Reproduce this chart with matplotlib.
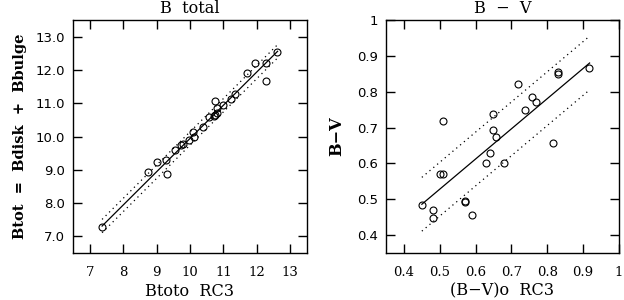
import matplotlib
matplotlib.use("Agg")
import matplotlib.pyplot as plt
import numpy as np

# ---- Left panel data: B total ----
btot_rc3 = [7.37, 8.74, 9.02, 9.28, 9.32, 9.56, 9.74, 9.78, 9.96, 10.08, 10.12,
            10.38, 10.56, 10.72, 10.76, 10.80, 10.76, 10.82, 10.98, 11.22, 11.36,
            11.70, 11.94, 12.26, 12.26, 12.60]
btot_fit = [7.28, 8.92, 9.24, 9.28, 8.88, 9.58, 9.74, 9.76, 9.88, 10.14, 10.00,
            10.28, 10.60, 10.62, 11.08, 10.86, 10.64, 10.70, 10.94, 11.12, 11.28,
            11.90, 12.20, 12.20, 11.66, 12.54]
b_line_x = [7.37, 12.62]
b_slope, b_icpt, b_band = 1.0, -0.06, 0.2

# ---- Right panel data: B - V ----
bv_rc3 = [0.450, 0.480, 0.480, 0.500, 0.509, 0.509, 0.569, 0.569, 0.590, 0.629,
          0.639, 0.648, 0.648, 0.658, 0.679, 0.719, 0.738, 0.758, 0.768, 0.817,
          0.829, 0.829, 0.917]
bv_fit = [0.484, 0.471, 0.447, 0.569, 0.569, 0.717, 0.496, 0.492, 0.455, 0.600,
          0.628, 0.737, 0.694, 0.674, 0.600, 0.822, 0.748, 0.784, 0.770, 0.656,
          0.856, 0.850, 0.867]
bv_line_x = [0.45, 0.918]
bv_slope, bv_icpt, bv_band = 0.842, 0.486 - 0.842 * 0.45, 0.075

left_xticks = [7, 8, 9, 10, 11, 12, 13]
left_yticks = [7.0, 8.0, 9.0, 10.0, 11.0, 12.0, 13.0]
right_ticks = [0.4, 0.5, 0.6, 0.7, 0.8, 0.9, 1.0]
right_ticklabels = ["0.4", "0.5", "0.6", "0.7", "0.8", "0.9", "1"]

fig = plt.figure(figsize=(6.24, 3.0), dpi=100)
W, H = 624, 300
axL = fig.add_axes([73 / W, (H - 253) / H, 234 / W, 233 / H])
axR = fig.add_axes([386 / W, (H - 253) / H, 233 / W, 233 / H])

serif = "DejaVu Serif"
sans = "DejaVu Sans"
fs = 9.5
lfs = 11.6

def style(ax):
    for s in ax.spines.values():
        s.set_linewidth(1.0)
    ax.tick_params(direction="in", length=6.5, width=1.0, top=True, right=True,
                   labelsize=fs)
    ax.tick_params(axis="x", pad=9)
    ax.tick_params(axis="y", pad=6)
    for lab in ax.get_xticklabels():
        lab.set_family(serif)
    for lab in ax.get_yticklabels():
        lab.set_family(sans)

# Left
lx = np.array(b_line_x)
ly = b_slope * lx + b_icpt
axL.plot(lx, ly, color="black", lw=0.9)
axL.plot(lx, ly + b_band, color="black", lw=0.9, ls=(0, (1, 3)))
axL.plot(lx, ly - b_band, color="black", lw=0.9, ls=(0, (1, 3)))
axL.plot(btot_rc3, btot_fit, "o", mfc="none", mec="black", ms=5, mew=0.8)
axL.set_xlim(6.5, 13.5)
axL.set_ylim(6.5, 13.5)
axL.set_xticks(left_xticks)
axL.set_xticklabels([str(v) for v in left_xticks])
axL.set_yticks(left_yticks)
axL.set_yticklabels([f"{v:.1f}" for v in left_yticks])
axL.set_title("B  total", fontsize=lfs, family=serif, pad=5)
axL.set_xlabel("Btoto  RC3", fontsize=lfs, family=serif, labelpad=3)
axL.set_ylabel("Btot  =  Bdisk  +  Bbulge", fontsize=10.5, family=serif,
               fontweight="bold", labelpad=6)
style(axL)

# Right
rx = np.array(bv_line_x)
ry = bv_slope * rx + bv_icpt
axR.plot(rx, ry, color="black", lw=0.9)
axR.plot(rx, ry + bv_band, color="black", lw=0.9, ls=(0, (1, 3)))
axR.plot(rx, ry - bv_band, color="black", lw=0.9, ls=(0, (1, 3)))
axR.plot(bv_rc3, bv_fit, "o", mfc="none", mec="black", ms=5, mew=0.8)
axR.set_xlim(0.35, 1.0)
axR.set_ylim(0.35, 1.0)
axR.set_xticks(right_ticks)
axR.set_xticklabels(right_ticklabels)
axR.set_yticks(right_ticks)
axR.set_yticklabels(right_ticklabels)
axR.set_title("B  \u2212  V", fontsize=lfs, family=serif, pad=5)
axR.set_xlabel("(B\u2212V)o  RC3", fontsize=lfs, family=serif, labelpad=3)
axR.set_ylabel("B\u2212V", fontsize=lfs, family=serif, fontweight="bold",
               labelpad=8)
style(axR)

fig.savefig("out.png", dpi=100)
